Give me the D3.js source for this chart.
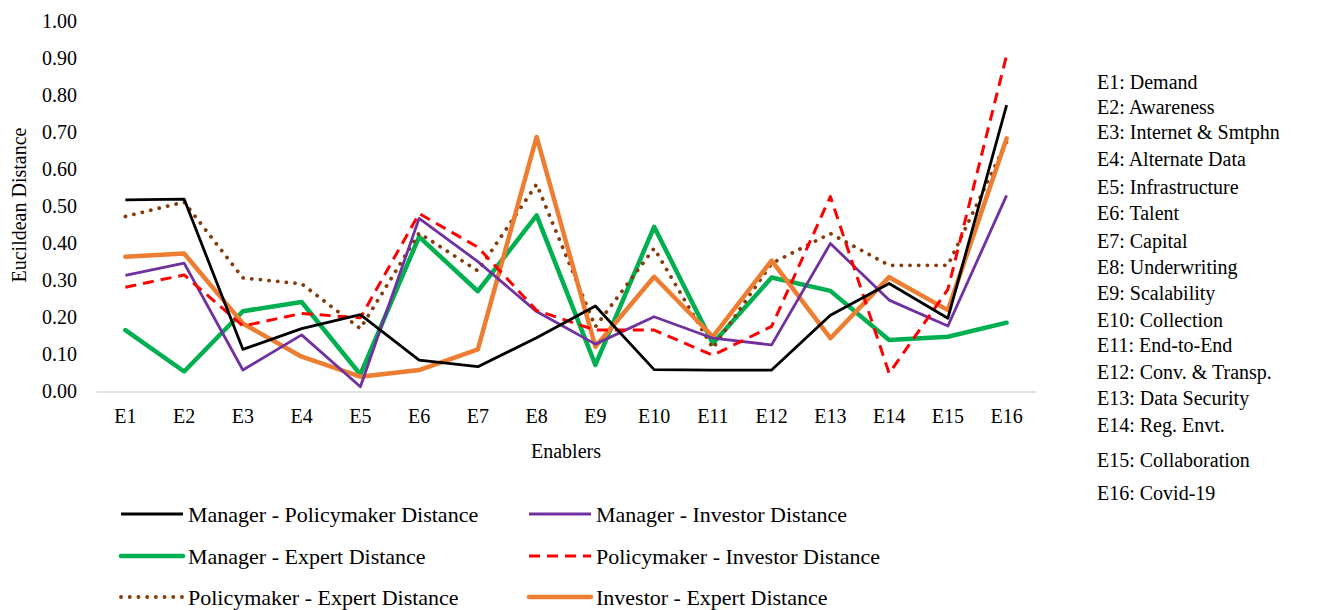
<!DOCTYPE html>
<html>
<head>
<meta charset="utf-8">
<script src="https://cdn.jsdelivr.net/npm/d3@7"></script>
</head>
<body style="margin:0">
<svg id="chart" width="1320" height="610"></svg>
<script>
// Enablers on the x axis
const categories = ["E1","E2","E3","E4","E5","E6","E7","E8","E9","E10","E11","E12","E13","E14","E15","E16"];

// Euclidean distance between stakeholder groups, per enabler
const managerPolicymaker = [0.518, 0.520, 0.114, 0.170, 0.208, 0.085, 0.067, 0.145, 0.231, 0.059, 0.058, 0.058, 0.206, 0.292, 0.198, 0.774];
const managerInvestor    = [0.314, 0.347, 0.058, 0.153, 0.013, 0.468, 0.351, 0.216, 0.128, 0.202, 0.144, 0.126, 0.400, 0.247, 0.177, 0.530];
const managerExpert      = [0.166, 0.054, 0.217, 0.242, 0.046, 0.418, 0.271, 0.476, 0.072, 0.445, 0.130, 0.308, 0.272, 0.139, 0.148, 0.186];
const policyInvestor     = [0.282, 0.315, 0.177, 0.211, 0.199, 0.481, 0.390, 0.219, 0.166, 0.166, 0.098, 0.176, 0.527, 0.049, 0.276, 0.909];
const policyExpert       = [0.473, 0.512, 0.307, 0.291, 0.170, 0.428, 0.326, 0.560, 0.175, 0.387, 0.117, 0.346, 0.427, 0.341, 0.341, 0.675];
const investorExpert     = [0.364, 0.373, 0.184, 0.094, 0.040, 0.058, 0.114, 0.688, 0.121, 0.310, 0.148, 0.354, 0.144, 0.309, 0.220, 0.684];

const yTicks = [0, 0.1, 0.2, 0.3, 0.4, 0.5, 0.6, 0.7, 0.8, 0.9, 1.0];

const enablerNames = [
  "E1: Demand", "E2: Awareness", "E3: Internet & Smtphn", "E4: Alternate Data",
  "E5: Infrastructure", "E6: Talent", "E7: Capital", "E8: Underwriting",
  "E9: Scalability", "E10: Collection", "E11: End-to-End", "E12: Conv. & Transp.",
  "E13: Data Security", "E14: Reg. Envt.", "E15: Collaboration", "E16: Covid-19"
];

const series = [
  { name: "Manager - Policymaker Distance", values: managerPolicymaker, color: "#000000", width: 2.8, dash: null,      cap: "butt"  },
  { name: "Manager - Investor Distance",    values: managerInvestor,    color: "#7030A0", width: 2.8, dash: null,      cap: "butt"  },
  { name: "Manager - Expert Distance",      values: managerExpert,      color: "#00B050", width: 4.5, dash: null,      cap: "round" },
  { name: "Policymaker - Investor Distance",values: policyInvestor,     color: "#FF0000", width: 3,   dash: "11 7",    cap: "butt"  },
  { name: "Policymaker - Expert Distance",  values: policyExpert,       color: "#843C0C", width: 3.8, dash: "0.1 8.6", cap: "round" },
  { name: "Investor - Expert Distance",     values: investorExpert,     color: "#ED7D31", width: 4.5, dash: null,      cap: "round" }
];

// draw order (back to front)
const drawOrder = [2, 4, 5, 1, 3, 0];

const FONT = '"Liberation Serif", monospace';

const svg = d3.select("#chart");

const plot = { left: 96, right: 1036, top: 21.5, bottom: 391.5 };

const x = d3.scaleBand().domain(categories).range([plot.left, plot.right]);
const y = d3.scaleLinear().domain([0, 1]).range([plot.bottom, plot.top]);

// y axis labels
const yAxis = d3.axisLeft(y).tickValues(yTicks).tickFormat(d3.format(".2f")).tickSize(0).tickPadding(19);
const gy = svg.append("g").attr("transform", `translate(${plot.left},0)`).call(yAxis);
gy.attr("font-family", null);
gy.select(".domain").remove();
gy.selectAll("text").attr("fill", "#000").style("font-family", FONT).attr("font-size", 20);

// x axis
const xAxis = d3.axisBottom(x).tickSize(0).tickPadding(17);
const gx = svg.append("g").attr("transform", `translate(0,${plot.bottom})`).call(xAxis);
gx.attr("font-family", null);
gx.select(".domain").attr("stroke", "#d9d9d9").attr("stroke-width", 1.5);
gx.selectAll("text").attr("fill", "#000").style("font-family", FONT).attr("font-size", 20);

// axis titles
svg.append("text")
  .attr("x", 566).attr("y", 458)
  .attr("text-anchor", "middle")
  .style("font-family", FONT).attr("font-size", 20)
  .text("Enablers");

svg.append("text")
  .attr("transform", "translate(26,205) rotate(-90)")
  .attr("text-anchor", "middle")
  .style("font-family", FONT).attr("font-size", 20)
  .text("Eucildean Distance");

// series lines
const line = d3.line()
  .x((d, i) => x(categories[i]) + x.bandwidth() / 2)
  .y(d => y(d));

drawOrder.forEach(k => {
  const s = series[k];
  svg.append("path")
    .datum(s.values)
    .attr("d", line)
    .attr("fill", "none")
    .attr("stroke", s.color)
    .attr("stroke-width", s.width)
    .attr("stroke-linejoin", "round")
    .attr("stroke-linecap", s.cap)
    .attr("stroke-dasharray", s.dash);
});

// series legend (two columns, three rows)
const legendCols = [121, 529];
const legendRows = [514, 556, 597];
series.forEach((s, i) => {
  const lx = legendCols[i % 2];
  const ly = legendRows[Math.floor(i / 2)];
  const g = svg.append("g").attr("transform", `translate(${lx},${ly})`);
  g.append("line")
    .attr("x1", 0).attr("x2", 62).attr("y1", 0).attr("y2", 0)
    .attr("stroke", s.color)
    .attr("stroke-width", s.width)
    .attr("stroke-linecap", s.cap)
    .attr("stroke-dasharray", s.dash);
  g.append("text")
    .attr("x", 67).attr("y", 0)
    .attr("dy", "0.35em")
    .style("font-family", FONT).attr("font-size", 22)
    .text(s.name);
});

// enabler key on the right
const keyY = [82, 107, 132, 159, 187, 213, 241, 267, 293, 320, 345, 372, 398, 425, 460, 493];
svg.append("g")
  .selectAll("text")
  .data(enablerNames)
  .join("text")
  .attr("x", 1097)
  .attr("y", (d, i) => keyY[i])
  .attr("dy", "0.35em")
  .style("font-family", FONT).attr("font-size", 20)
  .text(d => d);
</script>
</body>
</html>
